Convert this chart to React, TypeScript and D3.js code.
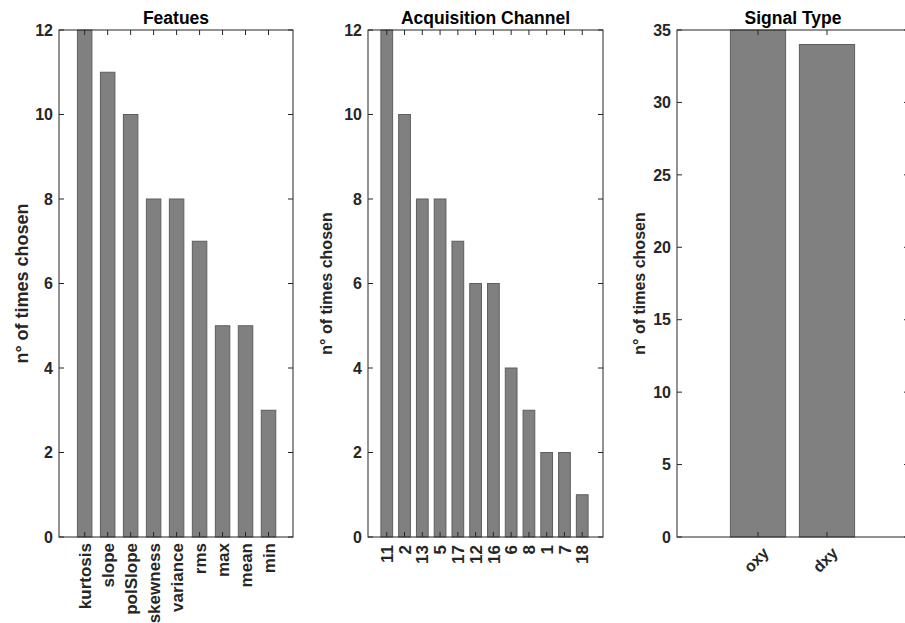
import * as d3 from 'd3';

const featureNames = ['kurtosis', 'slope', 'polSlope', 'skewness', 'variance', 'rms', 'max', 'mean', 'min'];
const featureCounts = [12, 11, 10, 8, 8, 7, 5, 5, 3];

const channelNames = ['11', '2', '13', '5', '17', '12', '16', '6', '8', '1', '7', '18'];
const channelCounts = [12, 10, 8, 8, 7, 6, 6, 4, 3, 2, 2, 1];

const signalNames = ['oxy', 'dxy'];
const signalCounts = [35, 34];

const countTicks12 = [0, 2, 4, 6, 8, 10, 12];
const countTicks35 = [0, 5, 10, 15, 20, 25, 30, 35];

const FONT = '"Liberation Sans", Arial, Helvetica, sans-serif';
const TOP = 30;
const BOTTOM = 537;
const TICK = 5;

interface PanelProps {
  title: string;
  names: string[];
  counts: number[];
  yMax: number;
  yTicks: number[];
  frame: [number, number];
  xRange: [number, number];
  xMax: number;
  barWidth: number;
  labelX: number;
  labelSize: number;
  rotate: number;
  tickLabelTop: number;
}

function Panel(p: PanelProps) {
  const x = d3.scaleLinear().domain([0, p.xMax]).range(p.xRange);
  const y = d3.scaleLinear().domain([0, p.yMax]).range([BOTTOM, TOP]);
  const [left, right] = p.frame;
  const step = x(1) - x(0);
  const bw = step * p.barWidth;
  const axisColor = '#262626';

  return (
    <g>
      {/* bars */}
      {p.counts.map((v, i) => (
        <rect
          key={p.names[i]}
          x={x(i + 1) - bw / 2}
          y={y(v)}
          width={bw}
          height={y(0) - y(v)}
          fill="#808080"
          stroke="#5e5e5e"
          strokeWidth={1}
        />
      ))}

      {/* frame */}
      <rect x={left} y={TOP} width={right - left} height={BOTTOM - TOP}
        fill="none" stroke={axisColor} strokeWidth={1} />

      {/* y ticks, both sides */}
      {p.yTicks.map(t => (
        <g key={t}>
          <line x1={left} x2={left + TICK} y1={y(t)} y2={y(t)} stroke={axisColor} />
          <line x1={right} x2={right - TICK} y1={y(t)} y2={y(t)} stroke={axisColor} />
          <text x={left - 6} y={y(t)} dy="0.36em" textAnchor="end"
            fontFamily={FONT} fontWeight="bold" fontSize={16} fill="#262626">{t}</text>
        </g>
      ))}

      {/* x ticks, top and bottom */}
      {p.names.map((n, i) => {
        const cx = x(i + 1);
        return (
          <g key={n}>
            <line x1={cx} x2={cx} y1={BOTTOM} y2={BOTTOM - TICK} stroke={axisColor} />
            <line x1={cx} x2={cx} y1={TOP} y2={TOP + TICK} stroke={axisColor} />
            {p.rotate === -90 ? (
              <text transform={`translate(${cx},${p.tickLabelTop}) rotate(-90)`}
                dy="0.36em" textAnchor="end"
                fontFamily={FONT} fontWeight="bold" fontSize={17} fill="#262626">{n}</text>
            ) : (
              <text transform={`translate(${cx + 4},${p.tickLabelTop}) rotate(-45)`}
                dy="0.7em" textAnchor="end"
                fontFamily={FONT} fontWeight="bold" fontSize={16} fill="#262626">{n}</text>
            )}
          </g>
        );
      })}

      {/* title */}
      <text x={(left + right) / 2} y={24} textAnchor="middle"
        fontFamily={FONT} fontWeight="bold" fontSize={17.5} fill="#000">{p.title}</text>

      {/* y label */}
      <text transform={`translate(${p.labelX},${(TOP + BOTTOM) / 2}) rotate(-90)`}
        textAnchor="middle" fontFamily={FONT} fontWeight="bold"
        fontSize={p.labelSize} fill="#262626">n° of times chosen</text>
    </g>
  );
}

export default function App() {
  return (
    <svg width={905} height={623} style={{ position: 'absolute', left: 0, top: 0, background: '#fff' }}>
      <rect width={905} height={623} fill="#fff" />
      <Panel title="Featues" names={featureNames} counts={featureCounts}
        yMax={12} yTicks={countTicks12} frame={[59, 293]} xRange={[61.7, 291.5]} xMax={10}
        barWidth={0.63} labelX={28} labelSize={18} rotate={-90} tickLabelTop={543} />
      <Panel title="Acquisition Channel" names={channelNames} counts={channelCounts}
        yMax={12} yTicks={countTicks12} frame={[368, 603]} xRange={[369, 600]} xMax={13}
        barWidth={0.66} labelX={332} labelSize={16} rotate={-90} tickLabelTop={545} />
      <Panel title="Signal Type" names={signalNames} counts={signalCounts}
        yMax={35} yTicks={countTicks35} frame={[677, 909]} xRange={[689, 896]} xMax={3}
        barWidth={0.8} labelX={645} labelSize={16} rotate={-45} tickLabelTop={546} />
    </svg>
  );
}
